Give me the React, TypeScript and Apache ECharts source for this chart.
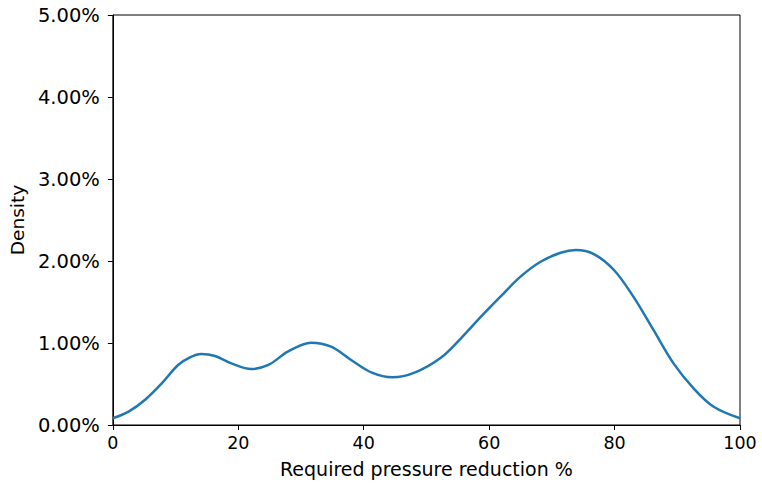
import React, { useEffect, useRef } from "react";
import * as echarts from "echarts";

const xValues = [0, 2.5, 5.1, 7.8, 10.4, 12.3, 14.1, 16.3, 18.9, 22.1, 24.8, 27.9, 31.6, 34.8, 38.0, 41.2, 44.6, 48.1, 52.3, 55.5, 58.7, 61.8, 65.0, 68.2, 71.4, 73.8, 76.7, 79.9, 83.0, 86.2, 89.4, 92.6, 95.8, 100];
const densityPct = [0.082, 0.163, 0.305, 0.508, 0.732, 0.825, 0.866, 0.841, 0.752, 0.683, 0.732, 0.894, 1.004, 0.955, 0.793, 0.642, 0.581, 0.638, 0.82, 1.057, 1.321, 1.565, 1.809, 1.991, 2.1, 2.134, 2.085, 1.89, 1.565, 1.159, 0.752, 0.447, 0.223, 0.082];
const xTicks = [0, 20, 40, 60, 80, 100];
const yTicks = [0, 1, 2, 3, 4, 5];

export default function App() {
  const ref = useRef<HTMLDivElement>(null);
  useEffect(() => {
    const prevOverflow = document.body.style.overflow;
    document.body.style.overflow = "hidden";
    const chart = echarts.init(ref.current!, null, { renderer: "svg" });
    const font = "DejaVu Sans";
    chart.setOption({
      animation: false,
      textStyle: { fontFamily: font },
      grid: {
        left: 111,
        width: 629,
        top: 15,
        height: 410,
        show: true,
        borderColor: "#000",
        borderWidth: 1,
        backgroundColor: "transparent",
      },
      xAxis: {
        type: "value",
        min: xTicks[0],
        max: xTicks[xTicks.length - 1],
        interval: 20,
        name: "Required pressure reduction %",
        nameLocation: "middle",
        nameGap: 34,
        nameTextStyle: { fontSize: 19, color: "#000", fontFamily: font },
        axisLine: { show: true, lineStyle: { color: "#000", width: 1 } },
        axisTick: { show: true, length: 5, inside: false, lineStyle: { color: "#000" } },
        axisLabel: { fontSize: 17.5, color: "#000", margin: 9, fontFamily: font, hideOverlap: false },
        splitLine: { show: false },
      },
      yAxis: {
        type: "value",
        min: yTicks[0],
        max: yTicks[yTicks.length - 1],
        interval: 1,
        name: "Density",
        nameLocation: "middle",
        nameGap: 76,
        nameTextStyle: { fontSize: 18.5, color: "#000", fontFamily: font },
        axisLine: { show: true, lineStyle: { color: "#000", width: 1 } },
        axisTick: { show: true, length: 5, inside: false, lineStyle: { color: "#000" } },
        axisLabel: {
          fontSize: 19.5,
          color: "#000",
          margin: 13,
          fontFamily: font,
          formatter: (v: number) => v.toFixed(2) + "%",
        },
        splitLine: { show: false },
      },
      series: [
        {
          type: "line",
          data: xValues.map((x, i) => [x, densityPct[i]]),
          smooth: 0.35,
          showSymbol: false,
          lineStyle: { color: "#1f77b4", width: 2.5 },
          clip: true,
        },
      ],
    });
    return () => {
      chart.dispose();
      document.body.style.overflow = prevOverflow;
    };
  }, []);
  return (
    <div
      ref={ref}
      style={{ position: "absolute", left: 0, top: 0, width: 820, height: 487 }}
    />
  );
}
